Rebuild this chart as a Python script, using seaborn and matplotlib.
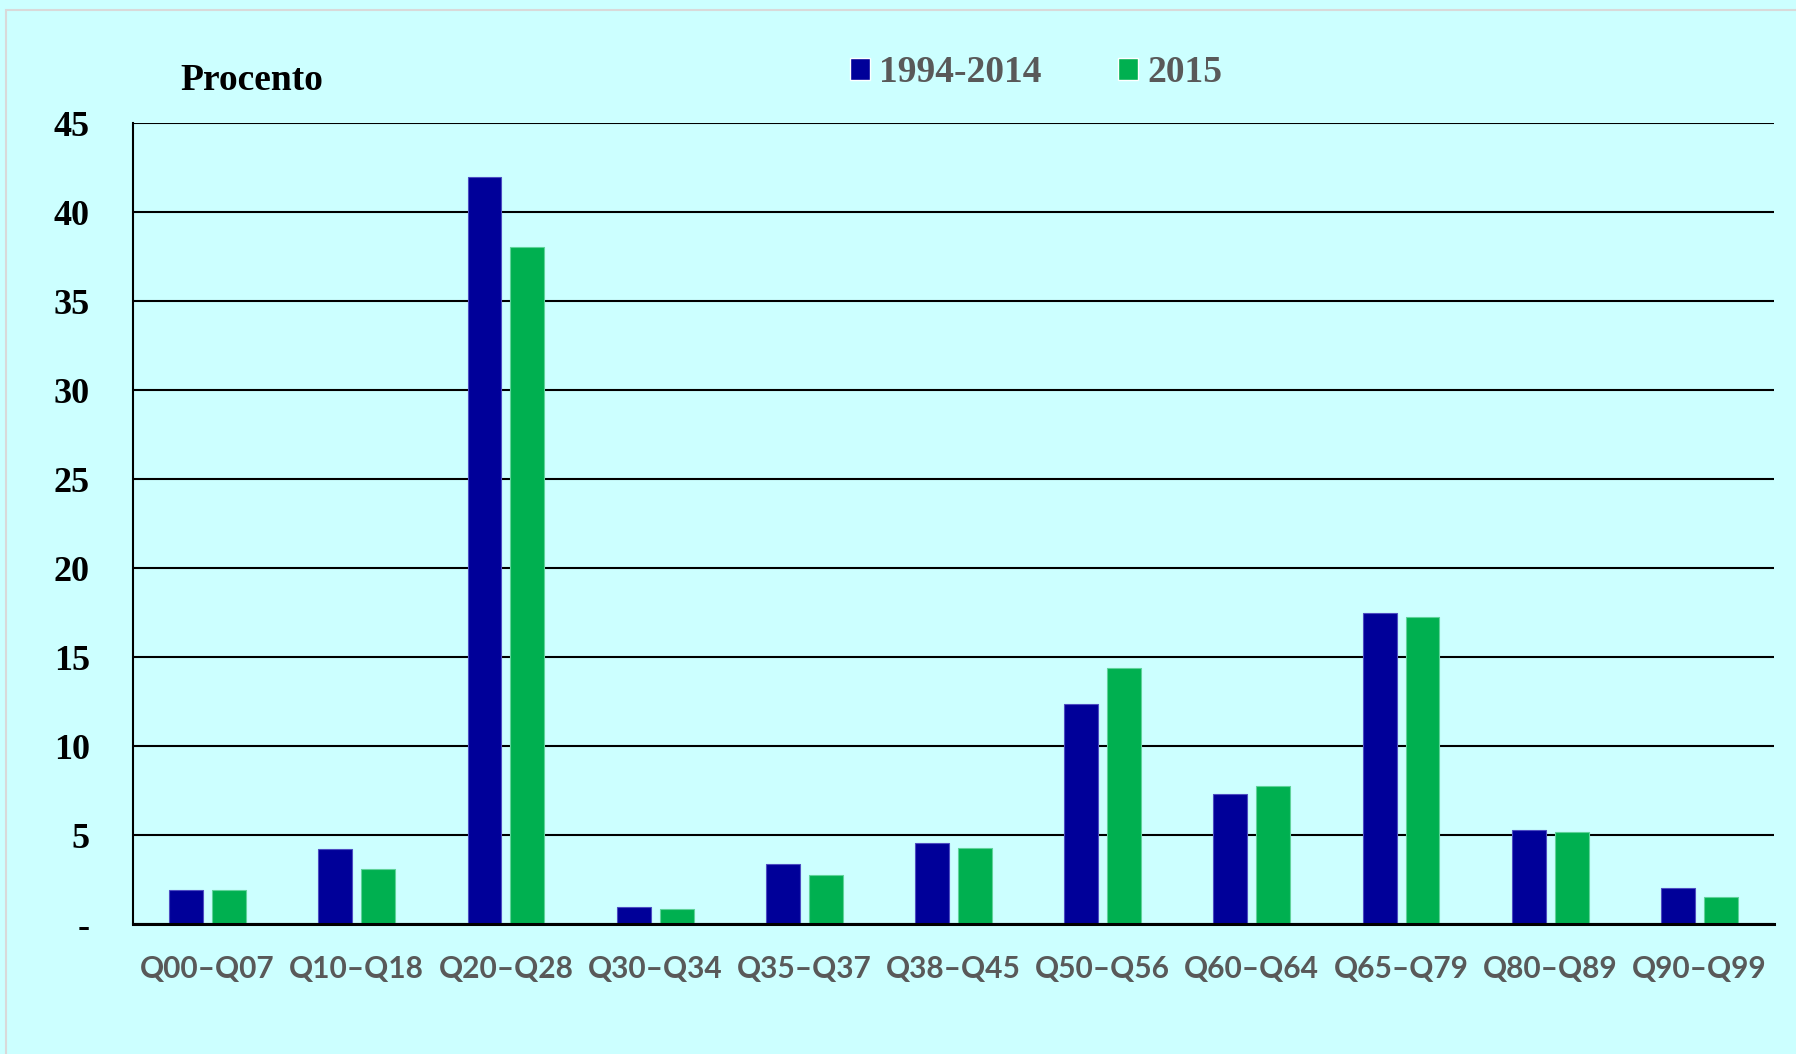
import pandas as pd
import numpy as np
import matplotlib
matplotlib.use("Agg")
import matplotlib.pyplot as plt
from matplotlib.patches import Rectangle
import seaborn as sns

# Data
categories = ["Q00–Q07", "Q10–Q18", "Q20–Q28", "Q30–Q34", "Q35–Q37", "Q38–Q45",
              "Q50–Q56", "Q60–Q64", "Q65–Q79", "Q80–Q89", "Q90–Q99"]
share_1994_2014 = [1.93, 4.24, 42.0, 0.96, 3.4, 4.56, 12.38, 7.32, 17.5, 5.27, 2.06]
share_2015 = [1.93, 3.08, 38.07, 0.84, 2.76, 4.3, 14.4, 7.75, 17.28, 5.2, 1.54]
series_names = ["1994-2014", "2015"]
y_ticks = [0, 5, 10, 15, 20, 25, 30, 35, 40, 45]
y_tick_labels = ["-", "5", "10", "15", "20", "25", "30", "35", "40", "45"]

bg = "#CCFFFF"
palette = {"1994-2014": "#000099", "2015": "#00B050"}
edges = {"1994-2014": "#4d4dc2", "2015": "#5fd39a"}

df = pd.DataFrame({
    "Kategori": categories * 2,
    "Procent": share_1994_2014 + share_2015,
    "Period": [series_names[0]] * len(categories) + [series_names[1]] * len(categories),
})

sns.set_theme(style="white")
plt.rcParams["font.family"] = ["Liberation Serif", "DejaVu Serif"]

fig = plt.figure(figsize=(17.96, 10.54), dpi=100, facecolor=bg)
ax = fig.add_axes([133 / 1796, 1 - 924.3 / 1054, (1774 - 133) / 1796, (924.3 - 123.3) / 1054])
ax.set_facecolor(bg)

sns.barplot(data=df, x="Kategori", y="Procent", hue="Period", palette=palette,
            saturation=1, width=0.576, gap=0.21, ax=ax, errorbar=None, zorder=3)

# thin lighter outline around bars, like the original
for cont, name in zip(ax.containers, series_names):
    for bar in cont:
        bar.set_edgecolor(edges[name])
        bar.set_linewidth(0.8)

ax.set_ylim(0, 45)
ax.set_xlim(-0.5, len(categories) - 0.5)
ax.set_yticks(y_ticks)
ax.set_yticklabels(y_tick_labels, fontsize=26, fontweight="bold", color="black")
ax.tick_params(axis="y", length=0, pad=31)
ax.tick_params(axis="x", length=0, pad=22)
for lbl in ax.get_xticklabels():
    lbl.set_family(["Lato", "DejaVu Sans"])
    lbl.set_fontweight("bold")
    lbl.set_fontsize(21.5)
    lbl.set_color("#595959")
ax.set_xlabel("")
ax.set_ylabel("")

ax.yaxis.grid(True, color="black", linewidth=1.5, zorder=1)
ax.set_axisbelow(True)
for side in ["top", "right"]:
    ax.spines[side].set_visible(False)
ax.spines["left"].set_color("black")
ax.spines["left"].set_linewidth(1.5)
ax.spines["bottom"].set_color("black")
ax.spines["bottom"].set_linewidth(2.2)
ax.spines["bottom"].set_zorder(4)

# legend at top centre, moved to the figure
handles, labels = ax.get_legend_handles_labels()
ax.get_legend().remove()
fig.legend(handles, labels, loc="center left", bbox_to_anchor=(850 / 1796, 1 - 73 / 1054),
           ncol=2, frameon=False, borderpad=0, borderaxespad=0,
           handlelength=0.53, handleheight=0.53, handletextpad=0.24, columnspacing=2.05,
           prop={"family": ["Liberation Serif"], "weight": "bold", "size": 27},
           labelcolor="#595959")

fig.text(180 / 1796, 1 - 90 / 1054, "Procento", fontsize=27, fontweight="bold",
         color="black", ha="left", va="baseline")

# light grey frame of the chart area
fig.patches.append(Rectangle((6 / 1796, -0.1), 1.2, 1.1 - 10 / 1054, transform=fig.transFigure,
                             fill=False, edgecolor="#d9d9d9", linewidth=1.5))

fig.savefig("out.png", dpi=100, facecolor=bg)
